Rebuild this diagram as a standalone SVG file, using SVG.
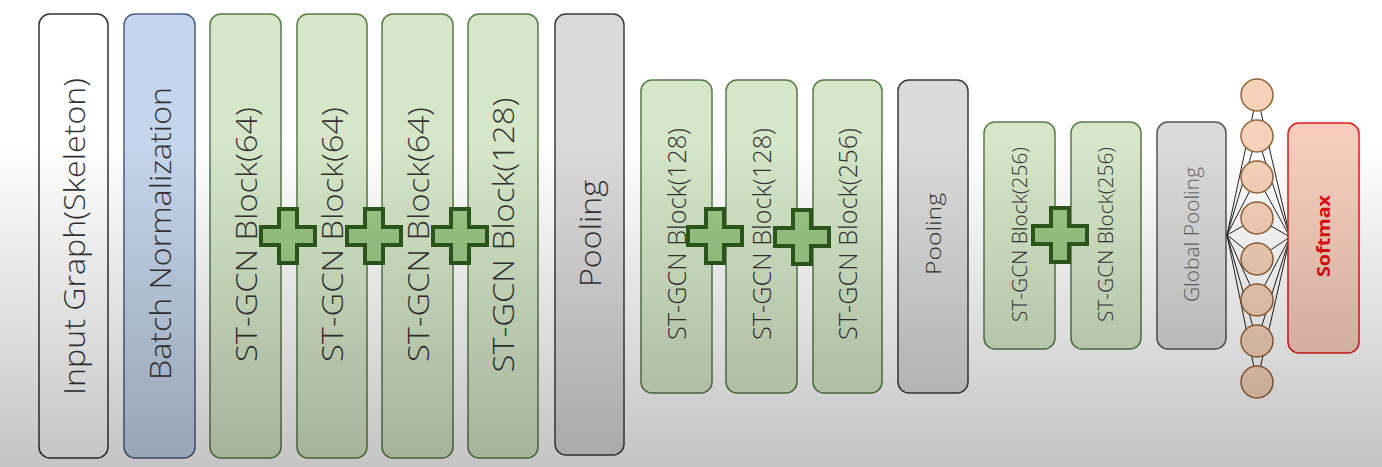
<svg xmlns="http://www.w3.org/2000/svg" width="1382" height="467" viewBox="0 0 1382 467">
<defs>
<linearGradient id="shade" x1="0" y1="0" x2="0" y2="1">
<stop offset="0" stop-color="#000" stop-opacity="0"/>
<stop offset="0.3" stop-color="#000" stop-opacity="0"/>
<stop offset="1" stop-color="#000" stop-opacity="0.23"/>
</linearGradient>
<path id="plus" d="M -9 -27 H 9 V -9 H 27 V 9 H 9 V 27 H -9 V 9 H -27 V -9 H -9 Z"/>
</defs>
<style>
.box{stroke-width:1.5}
.in{fill:#ffffff;stroke:#333333}
.bn{fill:#c5d5eb;stroke:#4d5d80}
.gc{fill:#d5e7c8;stroke:#5a7a48}
.pl{fill:#dadada;stroke:#3c3c3c}
.sm{fill:#f6cdbd;stroke:#e01818}
.t{font-family:"Open Sans","Noto Sans","Liberation Sans",sans-serif;font-weight:300;fill:#333333;text-anchor:middle}
.t1{font-size:30px}
.t2{font-size:25px}
.t3{font-size:20px}
.pls{fill:#9cc987;stroke:#2f5a1e;stroke-width:4;stroke-linejoin:miter}
.nl{stroke:#222;stroke-width:1;fill:none}
.nc{fill:#f6d2ba;stroke:#94643a;stroke-width:1.5}
</style>
<rect x="0" y="0" width="1382" height="467" fill="#ffffff"/>

<g id="input"><rect class="box in" x="39" y="14" width="69" height="444" rx="11"/>
<text class="t t1" transform="translate(73.5,236.5) rotate(-90)" y="11" textLength="317" lengthAdjust="spacingAndGlyphs">Input Graph(Skeleton)</text></g>
<g id="batchnorm"><rect class="box bn" x="124" y="14" width="71" height="444" rx="11"/>
<text class="t t1" transform="translate(159.5,233.5) rotate(-90)" y="11" textLength="293" lengthAdjust="spacingAndGlyphs">Batch Normalization</text></g>
<g id="stgcn1"><rect class="box gc" x="210" y="14" width="71" height="444" rx="11"/>
<text class="t t1" transform="translate(245.5,234.5) rotate(-90)" y="11" textLength="255" lengthAdjust="spacingAndGlyphs">ST-GCN Block(64)</text></g>
<g id="stgcn2"><rect class="box gc" x="297" y="14" width="70" height="444" rx="11"/>
<text class="t t1" transform="translate(332,234.5) rotate(-90)" y="11" textLength="255" lengthAdjust="spacingAndGlyphs">ST-GCN Block(64)</text></g>
<g id="stgcn3"><rect class="box gc" x="382" y="14" width="71" height="444" rx="11"/>
<text class="t t1" transform="translate(417.5,234.5) rotate(-90)" y="11" textLength="255" lengthAdjust="spacingAndGlyphs">ST-GCN Block(64)</text></g>
<g id="stgcn4"><rect class="box gc" x="468" y="14" width="70" height="444" rx="11"/>
<text class="t t1" transform="translate(503,235) rotate(-90)" y="11" textLength="275" lengthAdjust="spacingAndGlyphs">ST-GCN Block(128)</text></g>
<g id="pool1"><rect class="box pl" x="555" y="14" width="69" height="441" rx="11"/>
<text class="t t1" transform="translate(589.5,233.5) rotate(-90)" y="11" textLength="107" lengthAdjust="spacingAndGlyphs">Pooling</text></g>

<g id="stgcn5"><rect class="box gc" x="641" y="80" width="71" height="313" rx="11"/>
<text class="t t2" transform="translate(676.5,234) rotate(-90)" y="9" textLength="212" lengthAdjust="spacingAndGlyphs">ST-GCN Block(128)</text></g>
<g id="stgcn6"><rect class="box gc" x="726" y="80" width="71" height="313" rx="11"/>
<text class="t t2" transform="translate(761.5,234) rotate(-90)" y="9" textLength="212" lengthAdjust="spacingAndGlyphs">ST-GCN Block(128)</text></g>
<g id="stgcn7"><rect class="box gc" x="813" y="80" width="69" height="313" rx="11"/>
<text class="t t2" transform="translate(847.5,234) rotate(-90)" y="9" textLength="212" lengthAdjust="spacingAndGlyphs">ST-GCN Block(256)</text></g>
<g id="pool2"><rect class="box pl" x="898" y="80" width="70" height="313" rx="11"/>
<text class="t t3" transform="translate(933,234) rotate(-90)" y="8" textLength="82" lengthAdjust="spacingAndGlyphs">Pooling</text></g>

<g id="stgcn8"><rect class="box gc" x="984" y="122" width="71" height="227" rx="11"/>
<text class="t t3" transform="translate(1019.5,234.5) rotate(-90)" y="7" textLength="175" lengthAdjust="spacingAndGlyphs">ST-GCN Block(256)</text></g>
<g id="stgcn9"><rect class="box gc" x="1071" y="122" width="70" height="227" rx="11"/>
<text class="t t3" transform="translate(1106,234.5) rotate(-90)" y="7" textLength="175" lengthAdjust="spacingAndGlyphs">ST-GCN Block(256)</text></g>
<g id="globalpool"><rect class="box pl" x="1157" y="122" width="69" height="227" rx="11" style="stroke:#555"/>
<text class="t t3" transform="translate(1191.5,234.5) rotate(-90)" y="7" textLength="135" lengthAdjust="spacingAndGlyphs" style="fill:#666">Global Pooling</text></g>

<g id="connectors">
<line class="nl" x1="1227" y1="235" x2="1257" y2="95"/>
<line class="nl" x1="1227" y1="235" x2="1257" y2="136"/>
<line class="nl" x1="1227" y1="235" x2="1257" y2="177"/>
<line class="nl" x1="1227" y1="235" x2="1257" y2="218"/>
<line class="nl" x1="1227" y1="235" x2="1257" y2="259"/>
<line class="nl" x1="1227" y1="235" x2="1257" y2="300"/>
<line class="nl" x1="1227" y1="235" x2="1257" y2="341"/>
<line class="nl" x1="1227" y1="235" x2="1257" y2="382"/>
<line class="nl" x1="1290" y1="237" x2="1257" y2="95"/>
<line class="nl" x1="1290" y1="237" x2="1257" y2="136"/>
<line class="nl" x1="1290" y1="237" x2="1257" y2="177"/>
<line class="nl" x1="1290" y1="237" x2="1257" y2="218"/>
<line class="nl" x1="1290" y1="237" x2="1257" y2="259"/>
<line class="nl" x1="1290" y1="237" x2="1257" y2="300"/>
<line class="nl" x1="1290" y1="237" x2="1257" y2="341"/>
<line class="nl" x1="1290" y1="237" x2="1257" y2="382"/>
</g>

<g id="fc">
<circle class="nc" cx="1257" cy="95" r="16"/>
<circle class="nc" cx="1257" cy="136" r="16"/>
<circle class="nc" cx="1257" cy="177" r="16"/>
<circle class="nc" cx="1257" cy="218" r="16"/>
<circle class="nc" cx="1257" cy="259" r="16"/>
<circle class="nc" cx="1257" cy="300" r="16"/>
<circle class="nc" cx="1257" cy="341" r="16"/>
<circle class="nc" cx="1257" cy="382" r="16"/>
</g>

<g id="softmax"><rect class="box sm" x="1288" y="123" width="71" height="230" rx="11"/>
<text class="t" transform="translate(1323.5,236) rotate(-90)" y="6" font-size="18" textLength="82" lengthAdjust="spacingAndGlyphs" style="fill:#e01010;font-weight:bold">Softmax</text></g>

<g id="adds">
<use href="#plus" class="pls" x="288" y="236"/>
<use href="#plus" class="pls" x="374" y="236"/>
<use href="#plus" class="pls" x="460" y="236"/>
<use href="#plus" class="pls" x="715" y="236"/>
<use href="#plus" class="pls" x="802" y="237"/>
<use href="#plus" class="pls" x="1060" y="235"/>
</g>

<rect x="0" y="0" width="1382" height="467" fill="url(#shade)" pointer-events="none"/>
</svg>
